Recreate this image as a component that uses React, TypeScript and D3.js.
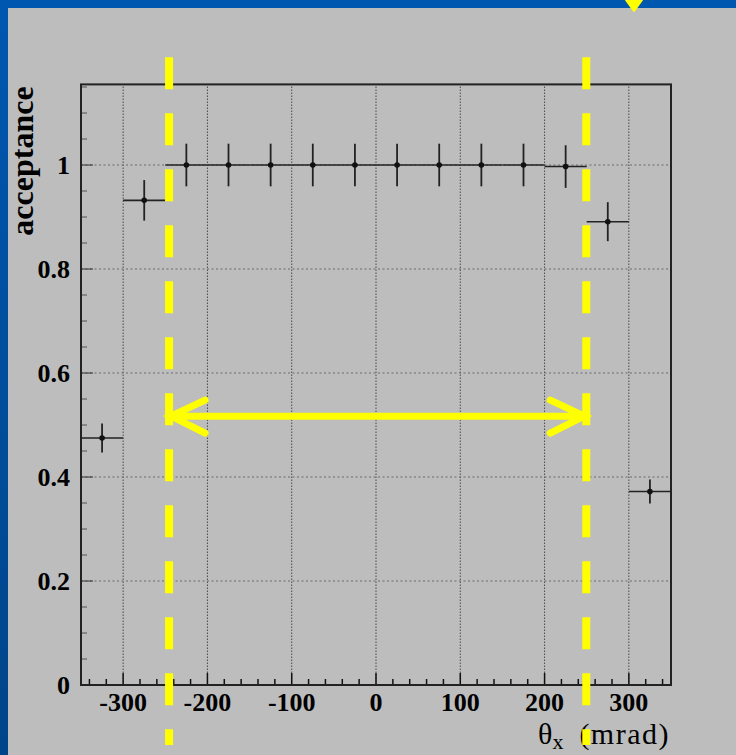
import React from "react";
import * as d3 from "d3";

// Acceptance per theta_x bin (50 mrad wide bins)
const binCenters = [-325, -275, -225, -175, -125, -75, -25, 25, 75, 125, 175, 225, 275, 325];
const binHalfWidth = 25;
const acceptance = [0.475, 0.932, 1.0, 1.0, 1.0, 1.0, 1.0, 1.0, 1.0, 1.0, 1.0, 0.997, 0.891, 0.372];
const acceptanceErr = [0.028, 0.039, 0.041, 0.041, 0.041, 0.041, 0.041, 0.041, 0.041, 0.041, 0.041, 0.041, 0.0375, 0.023];

const xMajorTicks = [-300, -200, -100, 0, 100, 200, 300];
const yMajorTicks = [0, 0.2, 0.4, 0.6, 0.8, 1];
const yTickLabels = ["0", "0.2", "0.4", "0.6", "0.8", "1"];

// Fiducial cut window and arrow height (mrad / acceptance units)
const cutEdges = [-245.5, 249.5];
const arrowLevel = 0.517;

const W = 736;
const H = 755;

export default function App() {
  const x = d3.scaleLinear().domain([-350, 350]).range([81, 671]);
  const y = d3.scaleLinear().domain([0, 1.155]).range([685, 84.4]);

  const xMinor = d3.range(-340, 350, 20).filter((v) => v % 100 !== 0);
  const yMinor = d3.range(0, 1.16, 0.05).map((v) => +v.toFixed(2)).filter((v) => Math.abs((v / 0.2) - Math.round(v / 0.2)) > 1e-6);

  const [x0, x1] = x.range();
  const [yb, yt] = y.range();

  const serif = "'Liberation Serif', 'Times New Roman', serif";
  const yellow = "#ffff00";
  const ay = y(arrowLevel);
  const aL = x(cutEdges[0]);
  const aR = x(cutEdges[1]);

  return (
    <svg width={W} height={H} style={{ position: "absolute", left: 0, top: 0 }} xmlns="http://www.w3.org/2000/svg">
      <defs>
        <linearGradient id="leftBand" x1="0" y1="0" x2="0" y2="1">
          <stop offset="0" stopColor="#0057b0" />
          <stop offset="1" stopColor="#004589" />
        </linearGradient>
      </defs>
      {/* slide background */}
      <rect x={0} y={0} width={W} height={H} fill="#bdbdbd" />
      <rect x={0} y={0} width={W} height={8} fill="#0057b0" />
      <rect x={0} y={0} width={8} height={H} fill="url(#leftBand)" />
      <path d="M626,0 L642,0 L634,11 Z" fill={yellow} stroke={yellow} strokeWidth={2} strokeLinejoin="round" />

      {/* grid */}
      {xMajorTicks.map((t) => (
        <line key={"gx" + t} x1={x(t)} x2={x(t)} y1={yb} y2={yt} stroke="#4a4a4a" strokeWidth={1} strokeDasharray="1.5,1.5" />
      ))}
      {yMajorTicks.slice(1).map((t) => (
        <line key={"gy" + t} x1={x0} x2={x1} y1={y(t)} y2={y(t)} stroke="#6a6a6a" strokeWidth={1} strokeDasharray="2,2.5" />
      ))}

      {/* ticks */}
      {xMajorTicks.map((t) => (
        <line key={"tx" + t} x1={x(t)} x2={x(t)} y1={yb} y2={yb - 12} stroke="#111" strokeWidth={1.5} />
      ))}
      {xMinor.map((t) => (
        <line key={"mx" + t} x1={x(t)} x2={x(t)} y1={yb} y2={yb - 6} stroke="#111" strokeWidth={1.5} />
      ))}
      {yMajorTicks.map((t) => (
        <line key={"ty" + t} x1={x0} x2={x0 + 12} y1={y(t)} y2={y(t)} stroke="#333" strokeWidth={1} />
      ))}
      {yMinor.map((t) => (
        <line key={"my" + t} x1={x0} x2={x0 + 6} y1={y(t)} y2={y(t)} stroke="#555" strokeWidth={1} />
      ))}

      {/* data: bin width bars, error bars, markers */}
      {binCenters.map((c, i) => (
        <g key={"b" + c}>
          <line x1={x(c - binHalfWidth)} x2={x(c + binHalfWidth)} y1={y(acceptance[i])} y2={y(acceptance[i])} stroke="#222" strokeWidth={1.6} />
          <line x1={x(c)} x2={x(c)} y1={y(acceptance[i] - acceptanceErr[i])} y2={y(acceptance[i] + acceptanceErr[i])} stroke="#222" strokeWidth={1.8} />
          <circle cx={x(c)} cy={y(acceptance[i])} r={2.8} fill="#111" />
        </g>
      ))}

      {/* frame */}
      <rect x={x0} y={yt} width={x1 - x0} height={yb - yt} fill="none" stroke="#222" strokeWidth={2} />

      {/* tick labels */}
      {xMajorTicks.map((t) => (
        <text key={"lx" + t} x={x(t)} y={710.5} textAnchor="middle" fontFamily={serif} fontWeight="bold" fontSize={26} fill="#000">
          {t}
        </text>
      ))}
      {yMajorTicks.map((t, i) => (
        <text key={"ly" + t} x={70} y={y(t) + 9} textAnchor="end" fontFamily={serif} fontWeight="bold" fontSize={26} fill="#000">
          {yTickLabels[i]}
        </text>
      ))}

      {/* axis titles */}
      <text transform="translate(33,161) rotate(-90)" textAnchor="middle" fontFamily={serif} fontWeight="bold" fontSize={32} fill="#000">
        acceptance
      </text>
      <text x={538} y={744} fontFamily={serif} fontSize={30} fill="#000">
        θ<tspan fontSize={22} dy={5}>x</tspan>
      </text>
      <text x={670} y={744} textAnchor="end" fontFamily={serif} fontSize={30} letterSpacing={1.5} fill="#000">
        (mrad)
      </text>

      {/* cut window markers */}
      {cutEdges.map((e) => (
        <line key={"cut" + e} x1={x(e)} x2={x(e)} y1={57.3} y2={745} stroke={yellow} strokeWidth={8} strokeDasharray="32,24" />
      ))}
      <g stroke={yellow} strokeWidth={7} strokeLinecap="round" fill="none">
        <line x1={aL + 3} x2={aR - 3} y1={ay} y2={ay} strokeLinecap="butt" />
        <polyline points={`${aL + 36},${ay - 16} ${aL + 2},${ay} ${aL + 36},${ay + 17}`} strokeLinejoin="miter" />
        <polyline points={`${aR - 36},${ay - 16} ${aR - 2},${ay} ${aR - 36},${ay + 17}`} strokeLinejoin="miter" />
      </g>
    </svg>
  );
}
